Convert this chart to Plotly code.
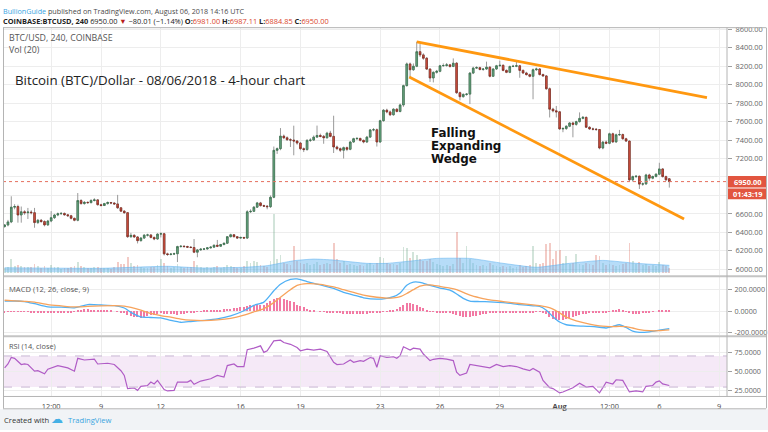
import plotly.graph_objects as go
import pandas as pd

# ---------------- DATA ----------------
open_ = [6463,6480,6513,6673,6680,6588,6623,6613,6620,6613,6506,6531,6517,6481,6523,6559,6588,6602,6605,6590,
         6580,6552,6531,6745,6712,6725,6722,6745,6752,6700,6691,6712,6723,6718,6708,6666,6630,6613,6353,6368,
         6350,6310,6338,6370,6372,6345,6328,6381,6385,6167,6160,6165,6168,6246,6250,6246,6240,6236,6185,6210,
         6218,6220,6232,6240,6260,6250,6268,6282,6353,6374,6353,6338,6345,6338,6623,6628,6673,6719,6690,6684,
         6678,6780,7289,7307,7443,7425,7404,7400,7390,7368,7307,7297,7397,7400,7432,7450,7440,7425,7475,7440,
         7325,7307,7290,7318,7300,7379,7415,7418,7397,7379,7432,7510,7512,7379,7610,7724,7705,7674,7735,7710,
         7781,7990,8225,8162,8200,8358,8323,8287,8169,8073,8134,8145,8205,8208,8215,8198,8233,7913,7870,7895,
         7898,8126,8180,8185,8165,8170,8190,8091,8170,8205,8210,8155,8134,8198,8200,8205,8155,8127,8109,8091,
         8162,8170,8110,8095,7956,7735,7717,7706,7521,7525,7550,7585,7570,7600,7635,7646,7539,7521,7518,7514,
         7314,7378,7365,7468,7380,7457,7460,7414,7389,6969,7004,7008,6923,6925,7022,6987,7005,7030,7087,7004,
         6981]
high = [6490,6535,6791,6705,6700,6680,6640,6665,6640,6665,6545,6545,6530,6535,6630,6600,6615,6620,6615,6600,
        6590,6560,6826,6760,6740,6735,6760,6770,6760,6710,6720,6735,6730,6725,6806,6675,6640,6620,6395,6380,
        6360,6350,6380,6385,6380,6355,6390,6400,6395,6180,6175,6180,6255,6260,6258,6255,6250,6328,6220,6228,
        6230,6240,6248,6270,6318,6275,6290,6360,6385,6380,6360,6352,6350,6640,6650,6685,6730,6730,6700,6695,
        6800,7330,7320,7530,7460,7440,7420,7556,7400,7380,7320,7410,7420,7450,7557,7470,7455,7490,7500,7664,
        7340,7320,7330,7330,7390,7425,7430,7425,7405,7445,7520,7530,7525,7620,7735,7740,7720,7745,7745,7795,
        8000,8240,8240,8230,8465,8440,8340,8300,8180,8145,8160,8215,8230,8235,8225,8285,8245,7925,7905,7910,
        8135,8195,8200,8195,8180,8250,8200,8180,8215,8260,8220,8165,8205,8215,8251,8215,8165,8140,8120,8175,
        8185,8180,8120,8105,7970,7750,7770,7715,7540,7560,7595,7600,7610,7700,7660,7655,7550,7535,7530,7520,
        7390,7395,7480,7480,7470,7510,7470,7425,7395,7015,7020,7015,6940,7035,7035,7015,7040,7154,7095,7015,
        6987]
low = [6450,6465,6500,6650,6505,6505,6590,6545,6595,6450,6490,6505,6465,6470,6510,6545,6575,6590,6580,6570,
       6540,6520,6520,6700,6700,6710,6715,6735,6690,6680,6685,6700,6705,6700,6655,6620,6600,6340,6340,6340,
       6280,6300,6330,6355,6335,6315,6320,6345,6150,6145,6150,6155,6078,6235,6235,6230,6228,6175,6130,6200,
       6208,6212,6225,6232,6240,6242,6260,6275,6345,6345,6330,6330,6330,6330,6610,6620,6665,6680,6675,6650,
       6665,6770,7250,7290,7410,7390,7325,7235,7350,7290,7270,7285,7380,7390,7425,7430,7360,7415,7430,7260,
       7290,7270,7200,7280,7290,7370,7400,7385,7365,7370,7425,7495,7330,7370,7600,7690,7660,7665,7700,7700,
       7760,7980,8080,8150,8190,8300,8270,8160,8030,8025,8120,8135,8195,8195,8185,8190,7900,7830,7860,7880,
       7790,8115,8170,8155,8150,8160,8080,8085,8160,8195,8145,8125,8125,8190,8190,8075,8115,8100,8080,7842,
       8150,8100,8085,7945,7645,7700,7645,7510,7485,7510,7540,7430,7555,7590,7625,7530,7510,7505,7500,7300,
       7300,7355,7355,7370,7370,7445,7405,7380,6955,6950,6990,6870,6905,6915,6960,6975,6995,7020,6995,6960,
       6885]
close = [6480,6513,6673,6680,6588,6623,6613,6620,6613,6506,6531,6517,6481,6523,6559,6588,6602,6605,6590,6580,
         6552,6531,6745,6712,6725,6722,6745,6752,6700,6691,6712,6723,6718,6708,6666,6630,6613,6353,6368,6350,
         6310,6338,6370,6372,6345,6328,6381,6385,6167,6160,6165,6168,6246,6250,6246,6240,6236,6185,6210,6218,
         6220,6232,6240,6260,6250,6268,6282,6353,6374,6353,6338,6345,6338,6623,6628,6673,6719,6690,6684,6678,
         6780,7289,7307,7443,7425,7404,7400,7390,7368,7307,7297,7397,7400,7432,7450,7440,7425,7475,7440,7325,
         7307,7290,7318,7300,7379,7415,7418,7397,7379,7432,7510,7512,7379,7610,7724,7705,7674,7735,7710,7781,
         7990,8225,8162,8200,8358,8323,8287,8169,8073,8134,8145,8205,8208,8215,8198,8233,7913,7870,7895,7898,
         8126,8180,8185,8165,8170,8190,8091,8170,8205,8210,8155,8134,8198,8200,8205,8155,8127,8109,8091,8162,
         8170,8110,8095,7956,7735,7717,7706,7521,7525,7550,7585,7570,7600,7635,7646,7539,7521,7518,7514,7314,
         7378,7365,7468,7380,7457,7460,7414,7389,6969,7004,7008,6923,6925,7022,6987,7005,7030,7087,7004,6969,
         6950]
volume = [760,910,2120,1040,1190,1060,880,770,920,1360,1030,760,930,740,1210,900,780,610,730,760,
          890,940,1660,1050,770,630,740,790,910,760,620,750,600,780,1640,1230,1330,2410,1490,1060,
          1210,900,760,730,910,770,1180,2090,1530,1040,760,880,1370,910,740,770,900,1810,1190,920,
          750,780,740,900,1070,760,890,1220,1040,910,760,740,930,1790,1520,1830,1640,1210,1060,890,
          1800,8850,2110,2700,1490,1370,1180,4060,1790,1520,1340,1510,1190,1360,1660,1210,1350,1490,1230,4520,
          2080,1510,1820,1190,1370,1220,1040,1210,1060,1340,1510,1200,1480,2410,2260,1500,1360,1330,1220,1490,
          3910,3740,2260,3160,2690,2110,1790,1820,2090,1660,1350,1210,1040,1190,1060,1370,6160,2240,1510,4040,
          2110,1490,1210,1050,1190,1060,1520,1190,1040,910,1060,890,1050,760,910,1220,890,1060,1190,4060,
          1490,1360,1510,4340,4520,2090,3310,3440,1510,2560,1340,1510,2840,1360,1190,1520,1340,1210,2710,2540,
          1490,1210,1360,1190,1060,1210,1340,1510,4510,1790,1360,1640,1210,1340,1060,1190,1040,1660,1210,1040,
          760]
# 20-period volume average (at these bars)
vol_ma_idx = [0, 29, 49, 59, 72, 79, 87, 93, 99, 109, 115, 124, 130, 140, 150, 160, 170, 180, 190, 200]
vol_ma_val = [680, 600, 900, 650, 750, 1000, 1750, 2000, 1850, 1350, 1350, 1800, 2100, 2100, 1350, 750, 1350, 1800, 1350, 1050]

# MACD (12, 26, close, 9) lines read at these bars
macd_idx = [0,3,6,9,13,17,21,25,29,33,36,38,41,44,47,50,53,56,60,64,68,72,75,78,81,83,86,88,91,95,99,102,105,108,
            112,115,117,119,121,123,125,128,131,134,136,138,140,143,146,150,155,159,161,163,165,167,169,172,176,
            179,181,183,185,187,189,191,194,197,200]
macd_val = [93,95,90,70,40,38,31,62,58,52,30,-10,-53,-58,-62,-85,-102,-95,-84,-70,-43,5,55,85,190,250,295,300,275,
            245,211,175,150,125,112,120,135,170,240,270,268,240,215,195,160,120,95,90,87,80,62,50,45,10,-50,-100,
            -125,-135,-140,-148,-155,-140,-125,-150,-185,-195,-190,-175,-160]
signal_val = [102,97,92,85,62,50,40,45,50,52,48,35,10,-20,-40,-55,-72,-82,-86,-80,-65,-35,-5,25,80,130,200,240,256,
              250,225,200,175,150,130,122,124,135,165,200,232,245,230,215,200,175,150,125,105,90,72,60,52,40,20,-15,
              -55,-90,-120,-135,-140,-142,-140,-142,-155,-170,-180,-180,-172]
# MACD histogram, one value per bar
macd_hist = [-9,-7,-5,-3,-2,-2,-2,-5,-9,-14,
             -17,-19,-21,-22,-20,-17,-14,-12,-11,-10,
             -9,-6,4,12,17,16,14,12,10,8,
             6,4,2,0,-6,-12,-18,-32,-45,-52,
             -58,-63,-55,-45,-38,-32,-26,-22,-28,-30,
             -30,-31,-32,-30,-26,-20,-13,-9,-5,-2,
             2,4,6,8,10,13,16,19,22,26,
             30,35,40,48,55,60,62,61,60,75,
             95,110,118,120,115,105,95,80,60,48,
             35,19,12,6,0,-5,-7,-9,-12,-14,
             -18,-22,-25,-25,-25,-25,-25,-25,-25,-24,
             -22,-20,-18,-12,-6,-2,5,11,20,35,
             55,75,73,70,55,36,25,12,-5,-8,
             -12,-15,-17,-18,-20,-28,-40,-48,-55,-56,
             -55,-48,-42,-35,-30,-24,-18,-15,-13,-12,
             -10,-10,-10,-10,-10,-10,-10,-10,-10,-10,
             -8,-7,-15,-30,-50,-70,-80,-85,-78,-70,
             -62,-55,-45,-38,-30,-25,-20,-17,-15,-13,
             -14,-15,-8,2,8,15,5,-8,-18,-30,
             -28,-25,-20,-15,-10,-5,0,5,8,10,
             12]

# RSI (14, close) read at these bars
rsi_idx = [0,1,2,3,5,6,7,9,10,12,13,16,19,21,22,24,27,28,31,33,35,36,37,39,40,41,43,44,45,46,48,49,51,52,55,56,57,
           59,62,64,66,67,69,70,72,73,75,77,78,79,81,83,84,86,88,89,91,93,95,97,99,100,102,104,105,107,108,110,
           111,112,113,115,117,118,119,120,122,123,125,126,128,129,131,133,135,136,137,138,139,140,142,144,146,
           148,150,152,154,156,158,159,161,162,164,165,167,168,170,171,173,175,177,179,180,181,183,184,186,188,
           190,192,193,195,196,197,198,200]
rsi_val = [54.7,59.7,68,67,59,59.7,59,50.4,51,47,53,57.6,54.7,50.4,67,64.8,66,59.7,60.6,59,51,45,28,28.8,25.8,31,
           32,36.4,34,38.6,26.7,25,25.8,36.4,36.4,38.6,33.5,37.7,40.7,45,42.8,57.6,59.7,56.4,56.4,78,80,83,74.6,
           76.7,89.4,90.3,87.3,85,80.9,76.7,78.8,77.5,78.8,75.8,61.9,59,59.7,64.8,61.9,64,63.1,68,67,55.5,70.3,
           68,69,67,70.3,81.8,77.5,80,78.8,72.5,64,65.7,67,66,64,49.2,45,47,48,59,57.6,56.4,54.7,59,56.4,57.6,
           56.4,53.4,51.3,53.8,49,38.6,29.2,28,22.5,23.7,26.7,29.2,35,30,31,22.5,29.2,36.4,34,39.4,38.6,23.7,25,
           23.7,31,32,36.4,38,34,32]

# Drawn wedge (upper and lower trend lines): [start, end]
wedge_upper_t = ["2018-07-24 20:00", "2018-08-08 09:20"]
wedge_upper_p = [8465, 7859]
wedge_lower_t = ["2018-07-24 11:00", "2018-08-07 05:45"]
wedge_lower_p = [8084, 6545]

tick_dates = ["2018-07-06 12:00", "2018-07-09", "2018-07-12", "2018-07-16", "2018-07-19", "2018-07-23",
              "2018-07-26", "2018-07-29", "2018-08-01", "2018-08-03 12:00", "2018-08-06", "2018-08-09"]
tick_labels = ["12:00", "9", "12", "16", "19", "23", "26", "29", "<b>Aug</b>", "12:00", "6", "9"]
price_ticks = list(range(6000, 8601, 200))
# the 7000.00 and 6800.00 labels sit under the last-price / countdown boxes
price_tick_labels = ["" if p in (6800, 7000) else f"{p}.00" for p in price_ticks]
macd_ticks = [-200, 0, 200]
macd_tick_labels = ["-200.0000", "0.0000", "200.0000"]
rsi_ticks = [25, 50, 75]
rsi_tick_labels = ["25.0000", "50.0000", "75.0000"]
last_price = 6950
countdown = "01:43:19"

# ---------------- FIGURE ----------------
W, H = 768, 432
def px(xp): return xp / W
def py(yp): return 1 - yp / H

times = pd.date_range("2018-07-04 04:00", periods=len(close), freq="4h")
x_range = ["2018-07-04 02:02", "2018-08-09 09:27"]
BAR_MS = 4 * 3600 * 1000

UP_FILL, DN_FILL = "#6ba583", "#d75442"
UP_LINE, DN_LINE = "#2f6b45", "#7a2419"
GRID = "#ededed"
FONT = "Open Sans"

fig = go.Figure()

# volume (drawn behind price)
vol_colors = ["rgba(107,165,131,0.30)" if c >= o else "rgba(215,84,66,0.30)" for o, c in zip(open_, close)]
fig.add_trace(go.Bar(x=times, y=volume, marker=dict(color=vol_colors, line=dict(width=0)),
                     width=BAR_MS * 0.55, xaxis="x", yaxis="y4", hoverinfo="skip", showlegend=False))
fig.add_trace(go.Scatter(x=[times[i] for i in vol_ma_idx], y=vol_ma_val, mode="lines",
                         line=dict(color="rgba(100,180,240,0.55)", width=1, shape="spline", smoothing=0.5),
                         fill="tozeroy", fillcolor="rgba(110,185,242,0.50)", xaxis="x", yaxis="y4",
                         hoverinfo="skip", showlegend=False))

# candles: wicks (grey) then bodies with coloured borders
fig.add_trace(go.Candlestick(x=times, open=open_, high=high, low=low, close=close,
                             increasing=dict(line=dict(color="#9a9a9a", width=1), fillcolor=UP_FILL),
                             decreasing=dict(line=dict(color="#9a9a9a", width=1), fillcolor=DN_FILL),
                             whiskerwidth=0, xaxis="x", yaxis="y", hoverinfo="skip", showlegend=False))
body_hi = [max(o, c) for o, c in zip(open_, close)]
body_lo = [min(o, c) for o, c in zip(open_, close)]
fig.add_trace(go.Candlestick(x=times, open=open_, high=body_hi, low=body_lo, close=close,
                             increasing=dict(line=dict(color=UP_LINE, width=0.6), fillcolor=UP_FILL),
                             decreasing=dict(line=dict(color=DN_LINE, width=0.6), fillcolor=DN_FILL),
                             whiskerwidth=0, xaxis="x", yaxis="y", hoverinfo="skip", showlegend=False))

# MACD
mt = [times[i] for i in macd_idx]
fig.add_trace(go.Bar(x=times, y=macd_hist, marker=dict(color="#f27aa4", line=dict(width=0)),
                     width=BAR_MS * 0.4, xaxis="x2", yaxis="y2", hoverinfo="skip", showlegend=False))
fig.add_trace(go.Scatter(x=mt, y=macd_val, mode="lines", line=dict(color="#4fb0f5", width=1.3, shape="spline", smoothing=0.6),
                         xaxis="x2", yaxis="y2", hoverinfo="skip", showlegend=False))
fig.add_trace(go.Scatter(x=mt, y=signal_val, mode="lines", line=dict(color="#f7a35c", width=1.3, shape="spline", smoothing=0.6),
                         xaxis="x2", yaxis="y2", hoverinfo="skip", showlegend=False))

# RSI
fig.add_trace(go.Scatter(x=[times[i] for i in rsi_idx], y=rsi_val, mode="lines",
                         line=dict(color="#b05cc6", width=1.2), xaxis="x3", yaxis="y3",
                         hoverinfo="skip", showlegend=False))

xd = [px(3), px(727)]
common_x = dict(type="date", range=x_range, domain=xd, showgrid=True, gridcolor=GRID, gridwidth=1,
                tickvals=tick_dates, ticktext=tick_labels, showline=False, zeroline=False,
                fixedrange=True)
ytick = dict(size=7.4, color="#666666", family=FONT)
fig.update_layout(
    width=W, height=H, margin=dict(l=0, r=0, t=0, b=0, pad=0), autosize=False,
    paper_bgcolor="white", plot_bgcolor="white", showlegend=False, bargap=0,
    xaxis=dict(**common_x, showticklabels=False, rangeslider=dict(visible=False)),
    xaxis2=dict(**common_x, showticklabels=False, anchor="y2"),
    xaxis3=dict(**common_x, showticklabels=True, anchor="y3",
                tickfont=dict(size=7.4, color="#4a4a4a", family=FONT), ticks="", ticklabelstandoff=4),
    yaxis4=dict(domain=[py(275), py(24)], range=[-450, 37200], showgrid=False, showticklabels=False,
                zeroline=False, fixedrange=True),
    yaxis=dict(overlaying="y4", side="right", range=[5936, 8618], tickvals=price_ticks,
               ticktext=price_tick_labels, showgrid=True, gridcolor=GRID, zeroline=False, ticks="outside",
               ticklen=4, tickcolor="#a0a0a0", tickfont=ytick, anchor="x", fixedrange=True, ticklabelstandoff=2),
    yaxis2=dict(domain=[py(336), py(277)], side="right", range=[-223, 316], tickvals=macd_ticks,
                ticktext=macd_tick_labels, showgrid=True, gridcolor=GRID, zeroline=False, ticks="outside",
                ticklen=4, tickcolor="#a0a0a0", tickfont=dict(size=7.2, color="#666666", family=FONT),
                anchor="x2", fixedrange=True, ticklabelstandoff=1),
    yaxis3=dict(domain=[py(398), py(338)], side="right", range=[17.9, 94], tickvals=rsi_ticks,
                ticktext=rsi_tick_labels, showgrid=True, gridcolor=GRID, zeroline=False, ticks="outside",
                ticklen=4, tickcolor="#a0a0a0", tickfont=dict(size=7.2, color="#666666", family=FONT),
                anchor="x3", fixedrange=True, ticklabelstandoff=1),
)

shapes = []
# RSI band & levels
shapes.append(dict(type="rect", xref="paper", yref="y3", x0=xd[0], x1=xd[1], y0=30, y1=70,
                   fillcolor="rgba(171,71,188,0.12)", line=dict(width=0), layer="below"))
for lv in (30, 70):
    shapes.append(dict(type="line", xref="paper", yref="y3", x0=xd[0], x1=xd[1], y0=lv, y1=lv,
                       line=dict(color="#c9b6d3", width=1, dash="dash")))
# last price line
shapes.append(dict(type="line", xref="paper", yref="y", x0=xd[0], x1=xd[1], y0=last_price, y1=last_price,
                   line=dict(color="#e5705e", width=1, dash="dot")))
# wedge lines
shapes.append(dict(type="line", xref="x", yref="y", x0=wedge_upper_t[0], x1=wedge_upper_t[1],
                   y0=wedge_upper_p[0], y1=wedge_upper_p[1], line=dict(color="#ff9810", width=2.8)))
shapes.append(dict(type="line", xref="x", yref="y", x0=wedge_lower_t[0], x1=wedge_lower_t[1],
                   y0=wedge_lower_p[0], y1=wedge_lower_p[1], line=dict(color="#ff9810", width=2.8)))
# frame / separators
BORDER = "#b4b4b4"
def hline(y, x0=3, x1=766, w=1, c=BORDER):
    shapes.append(dict(type="line", xref="paper", yref="paper", x0=px(x0), x1=px(x1), y0=py(y), y1=py(y),
                       line=dict(color=c, width=w)))
def vline(x, y0=24, y1=410, w=1, c=BORDER):
    shapes.append(dict(type="line", xref="paper", yref="paper", x0=px(x), x1=px(x), y0=py(y0), y1=py(y1),
                       line=dict(color=c, width=w)))
shapes.append(dict(type="rect", xref="paper", yref="paper", x0=0, x1=1, y0=0, y1=py(411),
                   fillcolor="#f1f3f6", line=dict(width=0), layer="below"))
# red boxes on the price scale
shapes.append(dict(type="rect", xref="paper", yref="paper", x0=px(728), x1=px(767), y0=py(186), y1=py(174.5),
                   fillcolor="#e2553f", line=dict(width=0)))
shapes.append(dict(type="rect", xref="paper", yref="paper", x0=px(728), x1=px(767), y0=py(198), y1=py(187),
                   fillcolor="#e2553f", line=dict(width=0)))
hline(24)
hline(276, w=2, c="#c4c4c4")
hline(337, w=2, c="#c4c4c4")
hline(398)
hline(410.5)
vline(3.5)
vline(766.5)
vline(727, y0=24, y1=398)
fig.update_layout(shapes=shapes)

ann = []
def text(x, y, s, size=10, color="#333333", family=FONT, xanchor="left", **kw):
    d = dict(xref="paper", yref="paper", x=px(x), y=py(y), text=s, showarrow=False, xanchor=xanchor,
             yanchor="middle", font=dict(size=size, color=color, family=family), align="left", borderpad=0)
    d.update(kw)
    ann.append(d)

RED = "#d9442b"
text(2, 7, "<span style='color:#3aa5df'>BullionGuide</span> published on TradingView.com, August 06, 2018 14:16 UTC",
     size=7.2, color="#4a4a4a")
text(2, 17.5, "<b>COINBASE:BTCUSD, 240</b> 6950.00 <span style='color:#b71c1c'>▼</span> −80.01 (−1.14%) "
     f"<b>O:</b><span style='color:{RED}'>6981.00</span> <b>H:</b><span style='color:{RED}'>6987.11</span> "
     f"<b>L:</b><span style='color:{RED}'>6884.85</span> <b>C:</b><span style='color:{RED}'>6950.00</span>",
     size=7.4, color="#222222")
text(8, 34.5, "BTC/USD, 240, COINBASE", size=8.8, color="#555555")
text(8, 46.5, "Vol (20)", size=8.8, color="#555555")
text(8, 289, "MACD (12, 26, close, 9)", size=7.6, color="#555555")
text(8, 347, "RSI (14, close)", size=7.4, color="#555555")
text(14, 77, "Bitcoin (BTC)/Dollar - 08/06/2018 - 4-hour chart", size=13.3, color="#222222")
for k, w in enumerate(["Falling", "Expanding", "Wedge"]):
    text(430, 131 + 13 * k, f"<b>{w}</b>", size=11.9, color="#111111", family="DejaVu Sans")
text(747.5, 180.2, "<b>6950.00</b>", size=7.4, color="white", xanchor="center")
text(747.5, 192.5, "<b>" + countdown + "</b>", size=7.4, color="white", xanchor="center")
text(3, 421.5, "Created with", size=7.6, color="#333333")
text(50, 420.5, "☁", size=12, color="#45b0e5", family="DejaVu Sans")
text(67, 421.5, "TradingView", size=7.6, color="#3aa5df")
fig.update_layout(annotations=ann)

fig.write_html("out.html", config={"responsive": False, "displayModeBar": False},
               post_script="document.body.style.margin='0';document.body.style.overflow='hidden';")
